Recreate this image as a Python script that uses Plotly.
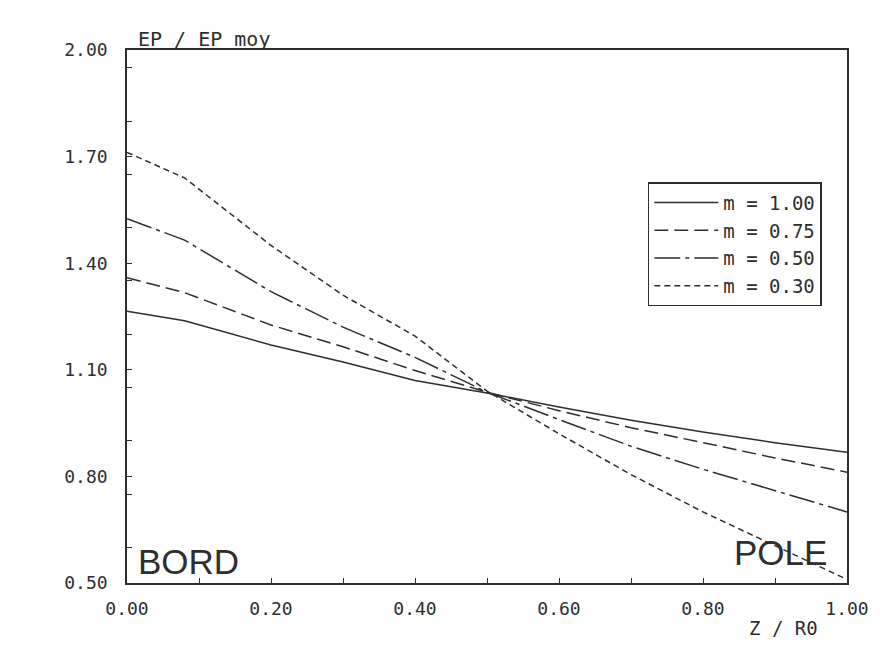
import plotly.graph_objects as go

# reduced abscissa Z / R0
z = [0.0, 0.08, 0.2, 0.3, 0.4, 0.5, 0.6, 0.7, 0.8, 0.9, 1.0]

# EP / EP moy for each m
ep_m100 = [1.265, 1.238, 1.170, 1.122, 1.070, 1.035, 0.995, 0.958, 0.925, 0.895, 0.868]
ep_m075 = [1.359, 1.317, 1.226, 1.165, 1.098, 1.037, 0.985, 0.937, 0.895, 0.852, 0.812]
ep_m050 = [1.525, 1.465, 1.320, 1.220, 1.135, 1.037, 0.960, 0.885, 0.820, 0.760, 0.700]
ep_m030 = [1.712, 1.640, 1.450, 1.310, 1.195, 1.040, 0.920, 0.805, 0.700, 0.605, 0.510]

labels = ["m = 1.00", "m = 0.75", "m = 0.50", "m = 0.30"]
series = [ep_m100, ep_m075, ep_m050, ep_m030]
dashes = ["solid", "14px,6px", "26px,5px,4px,5px", "6px,4px"]

INK = "#2e2e2e"
MONO = "DejaVu Sans Mono"

fig = go.Figure()
for name, ys, dash in zip(labels, series, dashes):
    fig.add_trace(go.Scatter(x=z, y=ys, mode="lines", name=name,
                             line=dict(color=INK, width=1.5, dash=dash)))

axis_common = dict(showline=True, linecolor=INK, linewidth=1.5, mirror=True,
                   showgrid=False, zeroline=False, ticks="inside", ticklen=5,
                   tickcolor=INK, tickwidth=1.2, automargin=False,
                   tickfont=dict(family=MONO, size=18, color=INK))

fig.update_xaxes(range=[0, 1], tick0=0, dtick=0.2, tickformat=".2f",
                 minor=dict(dtick=0.1, ticks="inside", ticklen=5, tickcolor=INK),
                 ticklabelstandoff=9, **axis_common)
fig.update_yaxes(range=[0.5, 2.0], tick0=0.5, dtick=0.3, tickformat=".2f",
                 minor=dict(dtick=0.15, ticks="inside", ticklen=5, tickcolor=INK),
                 ticklabelstandoff=14, **axis_common)

fig.add_annotation(text="EP / EP moy", xref="paper", yref="paper", x=0.012, y=1.0,
                   xanchor="left", yanchor="bottom", showarrow=False, yshift=-3,
                   font=dict(family=MONO, size=20, color=INK))
fig.add_annotation(text="Z / R0", xref="paper", yref="paper", x=0.9625, y=-0.108,
                   xanchor="right", yanchor="bottom", showarrow=False,
                   font=dict(family=MONO, size=19, color=INK))
fig.add_annotation(text="BORD", xref="paper", yref="paper", x=0.012, y=0.0,
                   xanchor="left", yanchor="bottom", showarrow=False,
                   font=dict(family="Liberation Sans", size=35, color=INK))
fig.add_annotation(text="POLE", xref="paper", yref="paper", x=0.975, y=0.016,
                   xanchor="right", yanchor="bottom", showarrow=False,
                   font=dict(family="Liberation Sans", size=35, color=INK))

# page has an 8px body margin, so the figure is shrunk and offset to match
fig.update_layout(
    width=864, height=632,
    margin=dict(l=119, r=25, t=42, b=57),
    paper_bgcolor="white", plot_bgcolor="white",
    legend=dict(x=0.965, y=0.752, xanchor="right", yanchor="top",
                bordercolor=INK, borderwidth=1.5, bgcolor="white",
                font=dict(family=MONO, size=19, color=INK),
                itemwidth=64, tracegroupgap=0),
)

fig.write_html("out.html")
